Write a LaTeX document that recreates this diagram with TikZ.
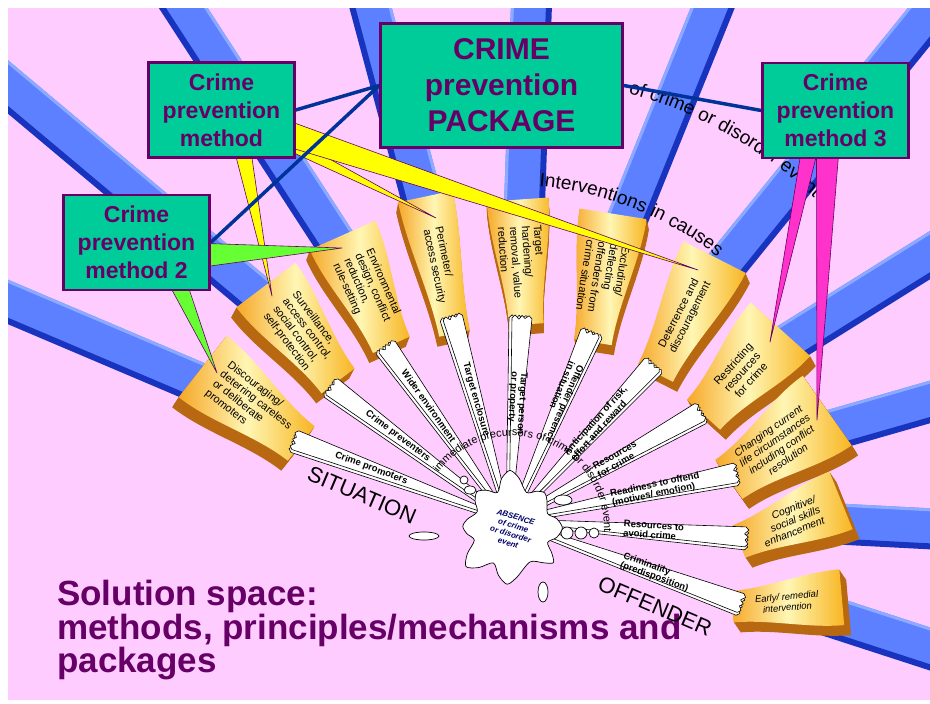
\documentclass[tikz,border=0pt]{standalone}
\usepackage{fontspec}
\setmainfont{Liberation Sans}
\usetikzlibrary{calc, decorations.text}

\definecolor{bgpink}{RGB}{255,204,255}
\definecolor{rayblue}{RGB}{92,128,255}
\definecolor{raydark}{RGB}{24,52,190}
\definecolor{raylight}{RGB}{140,170,255}
\definecolor{boxgreen}{RGB}{0,204,153}
\definecolor{plum}{RGB}{102,0,102}
\definecolor{linkblue}{RGB}{0,51,153}
\definecolor{cardorange}{RGB}{246,168,40}
\definecolor{cardpale}{RGB}{255,246,180}
\definecolor{cardbrown}{RGB}{184,104,16}
\definecolor{calloutyellow}{RGB}{255,255,0}
\definecolor{calloutgreen}{RGB}{102,255,51}
\definecolor{calloutpink}{RGB}{255,51,204}
\definecolor{absnavy}{RGB}{0,0,102}

\pgfdeclarelayer{front}
\pgfsetlayers{main,front}

\newcommand{\cardfont}{\fontsize{11}{12}\selectfont}
\newcommand{\carditfont}{\itshape\fontsize{10.5}{11.5}\selectfont}
\newcommand{\carditsmall}{\itshape\fontsize{9.5}{11}\selectfont}
\newcommand{\arcfont}{\fontsize{19}{19}\selectfont}

% card face: half length \cl, inner and outer half width \ci, \co
\newcommand{\cardshape}{(-\cl,-\ci) .. controls (-\cl/3,-\ci) and (\cl/3,-\co) .. (\cl,-\co) -- (\cl,\co) .. controls (\cl/3,\co) and (-\cl/3,\ci) .. (-\cl,\ci) -- cycle}
% white strip with torn end, #1 = sideways offset
\newcommand{\strippath}[1]{(24,#1-2) -- (\rend,#1-10) -- (\rend+3,#1-7) -- (\rend-1,#1-3) -- (\rend+3,#1) -- (\rend,#1+3) -- (\rend+3,#1+7) -- (\rend,#1+10) -- (24,#1+2) -- cycle}

\tikzset{
  methodbox/.style={draw=plum, line width=2.5pt, fill=boxgreen, text=plum, align=center, inner sep=0pt,
    font=\bfseries\fontsize{23}{28}\selectfont, minimum width=146pt, minimum height=95pt},
  packbox/.style={methodbox, font=\bfseries\fontsize{30}{36}\selectfont, minimum width=242pt, minimum height=124pt},
  link/.style={draw=linkblue, line width=3.5pt},
  callout/.style={draw=plum, line width=0.6pt, line join=round},
  strip/.style={draw=black, line width=0.6pt, fill=white, line join=round},
  striplabel/.style={font=\bfseries\fontsize{9.5}{9.5}\selectfont, align=left, inner sep=0pt},
  bigword/.style={font=\fontsize{22}{22}\selectfont, inner sep=0pt},
  splash/.style={draw=black, line width=0.7pt, fill=white}
}

\begin{document}
\begin{tikzpicture}[x=1pt, y=-1pt]
\useasboundingbox (0,0) rectangle (930,704);
\fill[white] (0,0) rectangle (930,704);
\begin{scope}
\clip (8,8) rectangle (930,700);
\fill[bgpink] (8,8) rectangle (930,700);
\coordinate (sc) at (510,520);

% blue rays behind the cards
\foreach \bx/\by/\ba in {252/405/157, 302/333/140, 367/290/123, 440/265/105, 522/262/88, 603/278/68,
  685/315/51, 742/372/32, 778/445/16, 790/521/-3, 787/602/-18}
{
  \pgfmathsetmacro\bd{\ba>95 ? -1 : 1}
  \begin{scope}[shift={(\bx,\by)}, rotate=\ba]
    \fill[rayblue] (0,-20) rectangle (900,20);
    \fill[raydark] (0,\bd*15) rectangle (900,\bd*21);
    \fill[raylight] (0,-\bd*20) rectangle (900,-\bd*17);
  \end{scope}
}

% golden cards
\foreach \cx/\cy/\ca/\cs/\len/\wid/\al/\cf/\ctext [count=\n] in {
  252/405/-38/-1/125/78/left/\cardfont/{Discouraging/\\deterring careless\\or deliberate\\promoters},
  302/333/-53/-1/120/74/left/\cardfont/{Surveillance,\\access control,\\social control,\\self-protection},
  367/290/-66/-1/120/72/left/\cardfont/{Environmental\\design, conflict\\reduction,\\rule-setting},
  440/265/-78/-1/140/56/left/\cardfont/{Perimeter/\\access security},
  522/262/-86/-1/125/62/left/\cardfont/{Target\\hardening/\\removal, value\\reduction},
  603/278/-99/-1/130/68/left/\cardfont/{Excluding/\\deflecting\\offenders from\\crime situation},
  685/315/63/1/130/70/left/\cardfont/{Deterrence and\\discouragement},
  742/372/48/1/115/80/center/\cardfont/{Restricting\\resources\\for crime},
  778/445/35/1/120/85/center/\carditfont/{Changing current\\life circumstances\\including conflict\\resolution},
  790/521/22/1/110/62/right/\carditfont/{Cognitive/\\social skills\\enhancement},
  787/602/5/1/110/56/center/\carditsmall/{Early/ remedial\\intervention}}
{
  \pgfmathsetmacro\cl{\len/2}
  \pgfmathsetmacro\co{\wid/2}
  \pgfmathsetmacro\ci{\wid*0.28}
  \pgfmathsetmacro\ex{(\cx-515)/400}
  \foreach \k in {10,9,...,1}
    \fill[cardbrown, shift={(\cx+\ex*\k,\cy+\k)}, rotate=\ca, xscale=\cs] \cardshape;
  \shade[shift={(\cx,\cy)}, rotate=\ca, xscale=\cs, left color=cardorange, right color=cardorange!85!yellow,
    middle color=cardpale] \cardshape;
  \node[rotate=\ca, font=\cf, align=\al, inner sep=0pt] (card\n) at (\cx,\cy) {\ctext};
}

% white strips from the centre
\foreach \sa/\rend/\rlab/\lbl [count=\n] in {
  159.6/229/148/{Crime promoters},
  143.2/222/140/{Crime preventers},
  125.4/212/140/{Wider environment},
  105.8/210/125/{Target enclosure},
  86.6/202/117/{Target person\\or property},
  66.8/203/128/{Offender presence\\in situation},
  47.5/210/131/{Anticipation of risk,\\effort and reward},
  29.6/218/123/{Resources\\for crime},
  11.8/230/149/{Readiness to offend\\(motives/ emotion)},
  -4.1/236/144/{Resources to\\avoid crime},
  -19.8/245/155/{Criminality\\(predisposition)}}
{
  \pgfmathsetmacro\sh{\sa>80 ? -3 : 3}
  \pgfmathsetmacro\lr{\sa>60 ? \sa-180 : \sa}
  \begin{scope}[shift={(sc)}, rotate=\sa]
    \draw[strip] \strippath{\sh};
    \draw[strip] \strippath{0};
    \node[striplabel, rotate=\lr] (lab\n) at (\rlab,0) {\lbl};
  \end{scope}
}

% splash in the middle
\draw[splash, shift={(512,528)}, scale=1.2] plot[smooth cycle] coordinates {(-12:38) (0:42) (12:38) (22:32)
  (32:39) (40:45) (48:39) (62:32) (84:41) (95:47) (106:41) (118:33) (130:43) (140:50) (150:43) (162:33)
  (173:38) (182:41) (191:38) (205:32) (216:38) (226:42) (236:38) (248:32) (258:42) (268:48) (278:42)
  (292:32) (304:37) (313:40) (322:37) (338:32)};
\draw[splash] (424,536) ellipse (15 and 4);
\draw[splash] (543,592) ellipse (5 and 10);
\draw[splash] (567,533) circle (6);
\draw[splash] (581,533) circle (6);
\draw[splash] (594,533) circle (5);
\draw[splash] (464,480) circle (4);
\draw[splash] (470,490) ellipse (6 and 4);
\draw[splash] (563,500) ellipse (9 and 5);
\node[rotate=-17, text=absnavy, font=\bfseries\itshape\fontsize{8}{9}\selectfont, align=center,
  inner sep=0pt] (absence) at (512,530) {ABSENCE\\of crime\\or disorder\\event};

% texts on arcs
\path[decorate, decoration={text along path, text={|\fontsize{11}{11}\selectfont|immediate precursors of crime or disorder event}}]
  (512,528) ++(-143:92) arc[start angle=-143, end angle=40, radius=92];
\path[decorate, decoration={text along path, text={|\arcfont|Interventions in causes}}]
  (sc) ++(-85:335) arc[start angle=-85, end angle=-40, radius=335];
\path[decorate, decoration={text along path, text={|\arcfont|of crime or disorder event}}]
  (sc) ++(-74.5:443) arc[start angle=-74.5, end angle=-30, radius=443];

\node[bigword, rotate=-23] (situation) at (362,495) {SITUATION};
\node[anchor=north west, inner sep=0pt, align=left, text=plum, font=\bfseries\fontsize{35}{30}\selectfont]
  (title) at (57,580) {Solution space:\\methods, principles/mechanisms and\\packages};
\node[bigword, rotate=-23] (offender) at (655,606) {OFFENDER};

% boxes on top
\begin{pgfonlayer}{front}
\node[packbox] (package) at (501.5,85.5) {CRIME\\prevention\\PACKAGE};
\node[methodbox] (method) at (221.5,110) {Crime\\prevention\\method};
\node[methodbox] (method2) at (136.5,242.5) {Crime\\prevention\\method 2};
\node[methodbox] (method3) at (835.5,110.5) {Crime\\prevention\\method 3};
\end{pgfonlayer}

% callouts
\coordinate (tipY1) at (272,296);
\coordinate (tipY2) at (698,270);
\coordinate (tipY3) at (436,218);
\coordinate (tipG1) at (342,248);
\coordinate (tipG2) at (217,373);
\coordinate (tipM1) at (770,342);
\coordinate (tipM2) at (817,420);
\filldraw[callout, fill=calloutyellow] ($(method.south)+(14,-4)$) -- ($(method.south)+(30,-4)$) -- (tipY1) -- cycle;
\filldraw[callout, fill=calloutyellow] ($(method.east)+(-4,28)$) -- ($(method.east)+(-4,42)$) -- (tipY3) -- cycle;
\filldraw[callout, fill=calloutyellow] ($(method.east)+(-4,12)$) -- ($(method.east)+(-4,38)$) -- (tipY2) -- cycle;
\filldraw[callout, fill=calloutgreen] ($(method2.east)+(-4,1)$) -- ($(method2.east)+(-4,24)$) -- (tipG1) -- cycle;
\filldraw[callout, fill=calloutgreen] ($(method2.south)+(34,-4)$) -- ($(method2.south)+(52,-4)$) -- (tipG2) -- cycle;
\filldraw[callout, fill=calloutpink] ($(method3.south)+(-35,-4)$) -- ($(method3.south)+(-19,-4)$) -- (tipM1) -- cycle;
\filldraw[callout, fill=calloutpink] ($(method3.south)+(-19,-4)$) -- ($(method3.south)+(3,-4)$) -- (tipM2) -- cycle;

\draw[link] (package.west) -- (method.east);
\draw[link] (package.west) -- (method2.east);
\draw[link] (package.east) -- (method3.west);
\end{scope}
\end{tikzpicture}
\end{document}
